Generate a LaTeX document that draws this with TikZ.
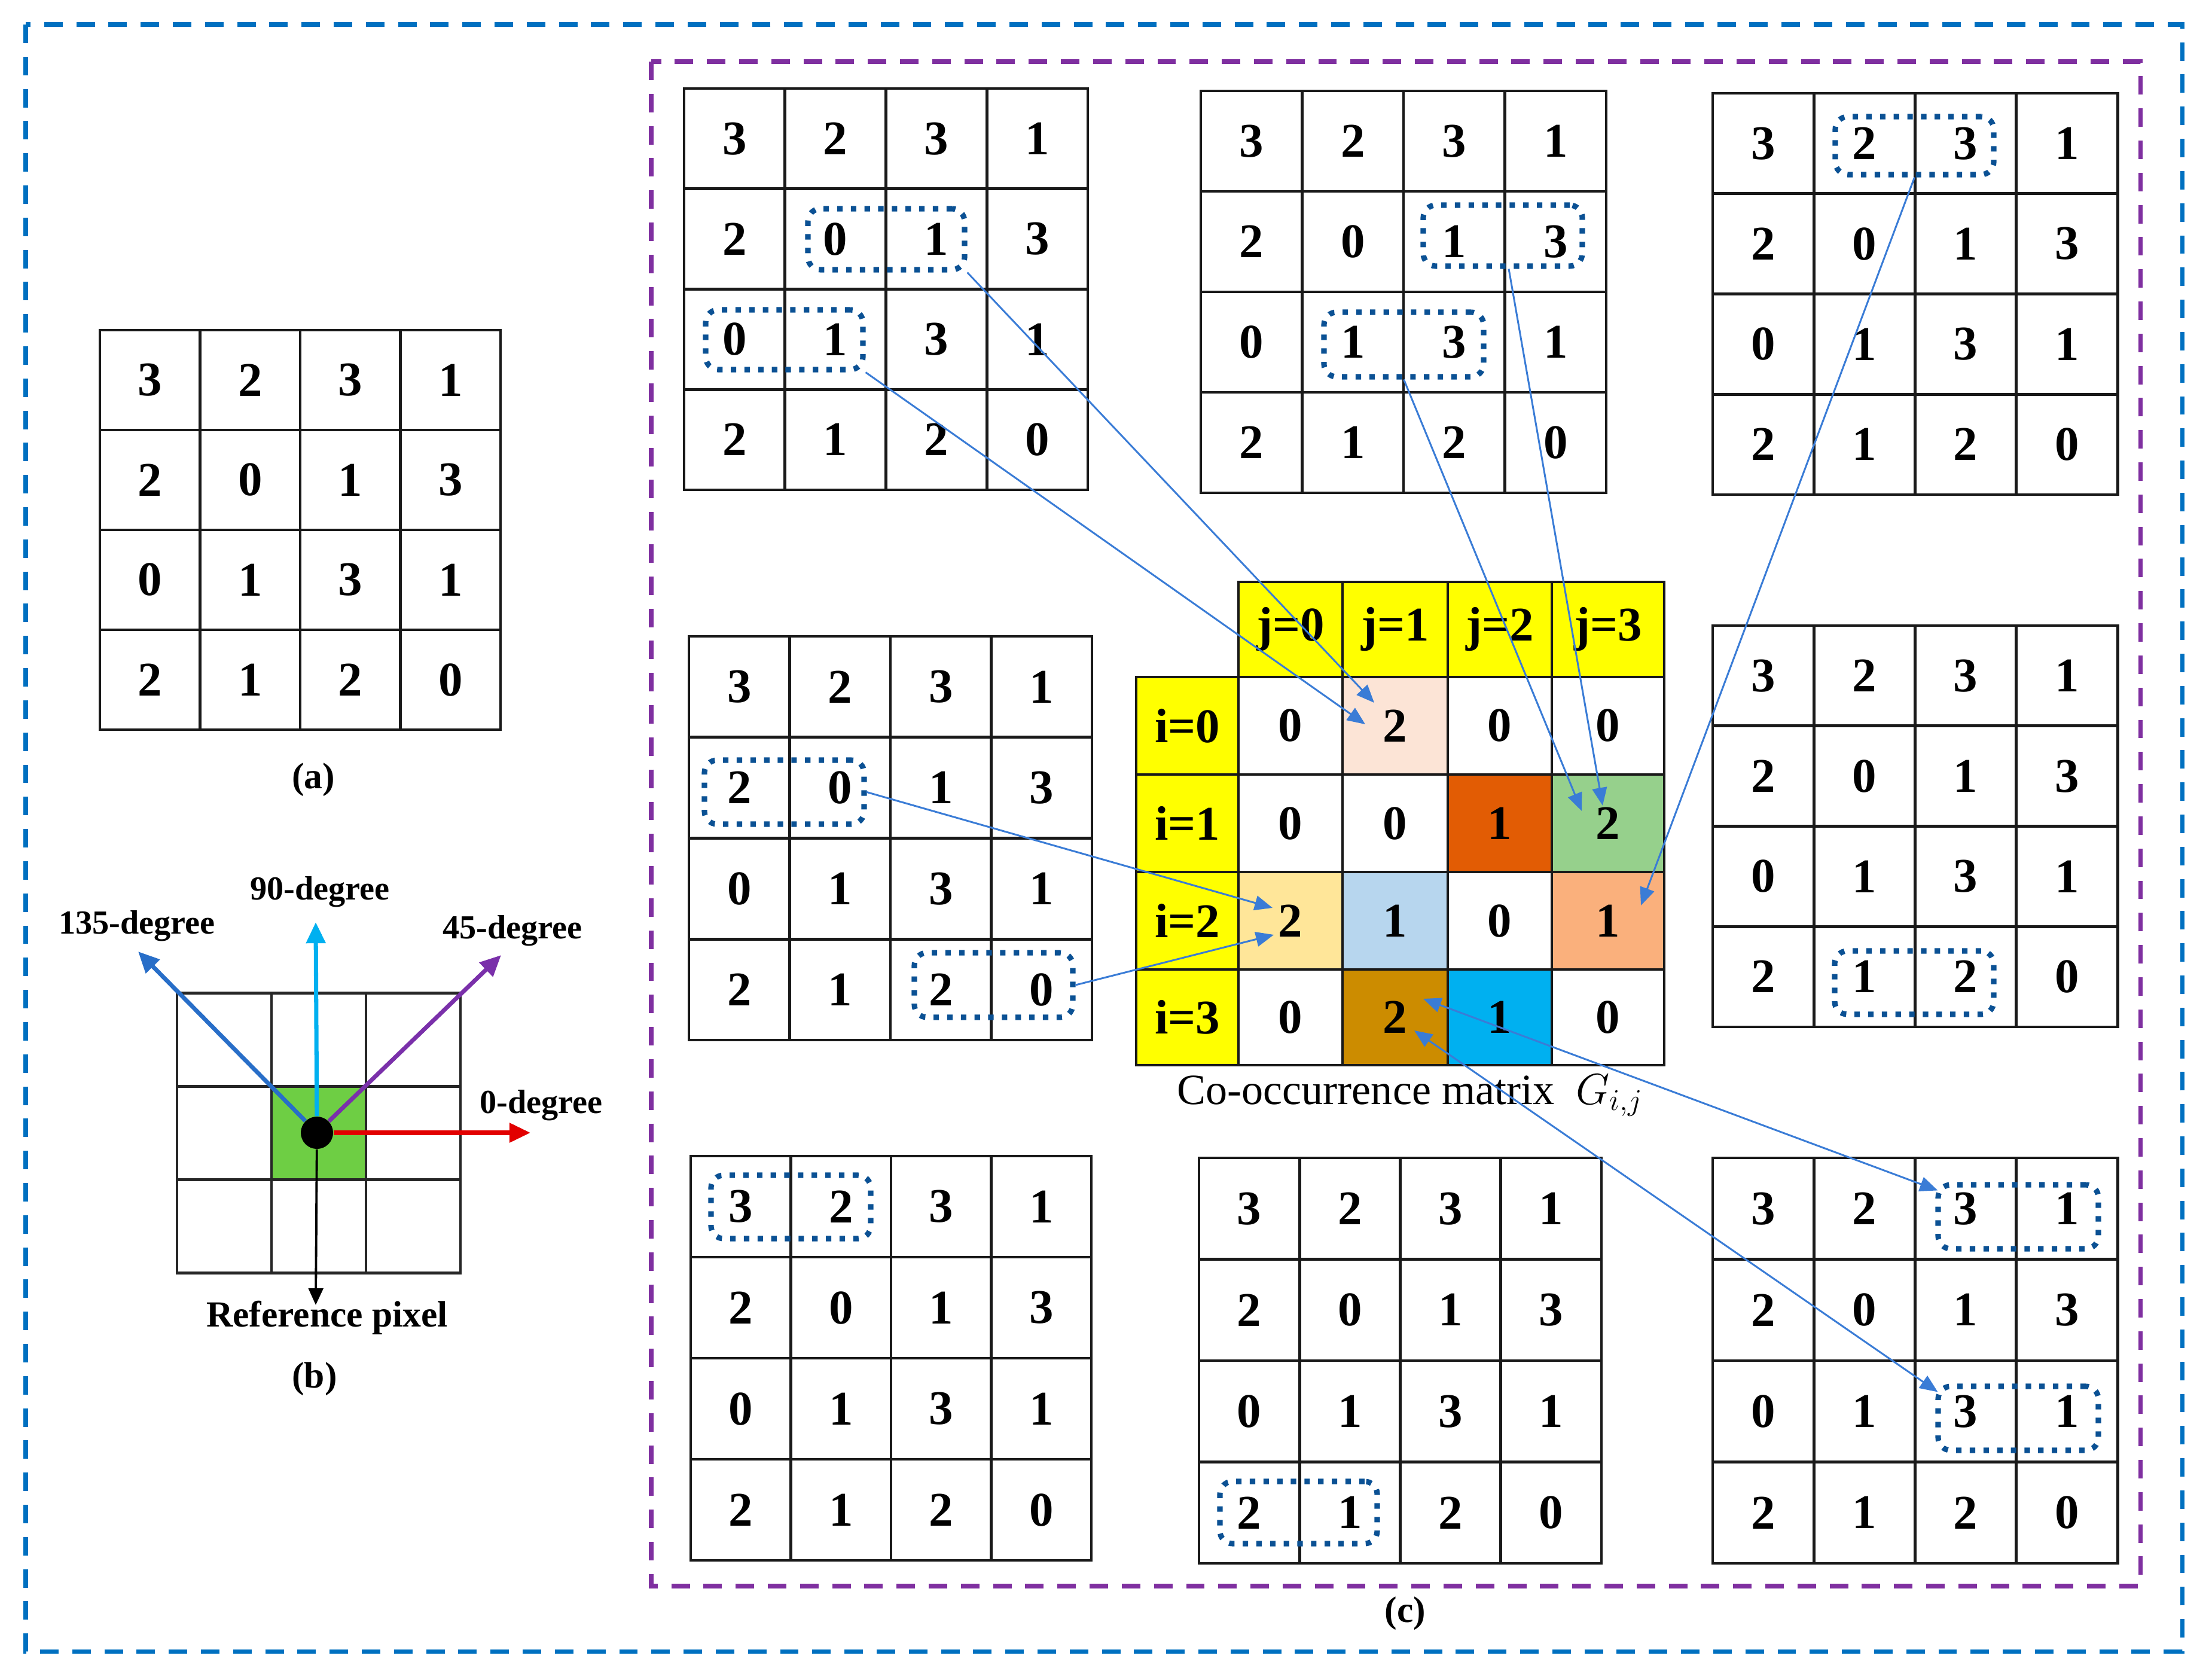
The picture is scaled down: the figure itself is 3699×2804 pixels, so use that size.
\documentclass[tikz,border=0pt]{standalone}
\usepackage{fontspec}
\setmainfont{Liberation Serif}
\usetikzlibrary{arrows.meta,fit,calc}
\definecolor{outerblue}{RGB}{0,112,192}
\definecolor{purpleC}{RGB}{127,47,160}
\definecolor{dotblue}{RGB}{11,81,148}
\definecolor{connblue}{RGB}{58,124,214}
\definecolor{peach}{RGB}{252,228,214}
\definecolor{orangeD}{RGB}{226,92,4}
\definecolor{greenM}{RGB}{150,208,140}
\definecolor{yellowL}{RGB}{255,230,153}
\definecolor{blueL}{RGB}{183,214,238}
\definecolor{salmon}{RGB}{250,176,124}
\definecolor{goldD}{RGB}{204,140,0}
\definecolor{cyanM}{RGB}{0,176,240}
\definecolor{yellowH}{RGB}{255,255,0}
\definecolor{greenB}{RGB}{110,206,68}
\definecolor{blue135}{RGB}{40,110,200}
\definecolor{purp45}{RGB}{122,48,170}
\definecolor{cyan90}{RGB}{0,176,240}
\definecolor{red0}{RGB}{226,0,0}

\newcommand{\pixgrid}[5]{%
  \foreach \r/\vals in {0/{3,2,3,1},1/{2,0,1,3},2/{0,1,3,1},3/{2,1,2,0}}{%
    \foreach \v [count=\c from 0] in \vals {%
      \node[cell, minimum width={#4*0.01cm}, minimum height={#5*0.01cm}] (#1-\r-\c) at ({#2+(\c+0.5)*#4},{#3+(\r+0.5)*#5}) {\v};
    }%
  }%
}
\newcommand{\mcell}[7]{%
  \node[cell, fill=#6, minimum width={(#4-#2)*0.01cm}, minimum height={(#5-#3)*0.01cm}] (#1) at ({(#2+#4)/2},{(#3+#5)/2}) {#7};%
}

\begin{document}
\begin{tikzpicture}[x=0.01cm,y=-0.01cm,
  cell/.style={draw=black!90, line width=1.4pt, inner sep=0pt, font=\fontsize{23}{27}\selectfont\bfseries},
  bcell/.style={draw=black!85, line width=1.4pt, inner sep=0pt, minimum width={158*0.01cm}, minimum height={156*0.01cm}},
  dotbox/.style={draw=dotblue, line width=2.6pt, dash pattern=on 2.6pt off 3.9pt, rounded corners=6pt, inner sep=0pt},
  conn/.style={draw=connblue, line width=0.85pt, -{Triangle[length=8.5pt,width=7pt]}},
  conntwo/.style={draw=connblue, line width=0.85pt, {Triangle[length=8.5pt,width=7pt]}-{Triangle[length=8.5pt,width=7pt]}},
  outerbox/.style={draw=outerblue, line width=2pt, dash pattern=on 8.8pt off 6.5pt},
  purplebox/.style={draw=purpleC, line width=2pt, dash pattern=on 8.8pt off 6.5pt},
  lab/.style={font=\fontsize{17.5}{21}\selectfont\bfseries, inner sep=0pt},
  deg/.style={font=\fontsize{16}{19}\selectfont\bfseries, inner sep=0pt},
  degarr/.style={line width=2pt, -{Triangle[length=10pt,width=9pt]}}
]
\useasboundingbox (0,0) rectangle (3699,2804);

% outer frames
\draw[outerbox] (43,41) rectangle (3649,2761);
\draw[purplebox] (1089,103) rectangle (3579,2652);

% (a)
\pixgrid{ga}{167}{552}{167.5}{167}
\node[lab] (la) at (524,1304) {(a)};

% (b)
\foreach \r in {0,1,2}{
  \foreach \c in {0,1,2}{
    \node[bcell] (gb-\r-\c) at ({296+(\c+0.5)*158},{1661+(\r+0.5)*155.7}) {};
  }
}
\node[bcell, fill=greenB] (gb-1-1) at ({296+1.5*158},{1661+1.5*155.7}) {};
\node[circle, fill=black, minimum size={54*0.01cm}, inner sep=0pt] (dot) at (530,1894) {};
\coordinate (e0) at (887,1894);
\coordinate (e90) at (528,1542);
\coordinate (e45) at (838,1597);
\coordinate (e135) at (231,1591);
\coordinate (eref) at (528,2182);
\draw[degarr, draw=red0] (dot) -- (e0);
\draw[degarr, draw=cyan90] (dot) -- (e90);
\draw[degarr, draw=purp45] (dot) -- (e45);
\draw[degarr, draw=blue135] (dot) -- (e135);
\draw[line width=1.1pt, -{Triangle[length=8pt,width=7pt]}] (dot) -- (eref);
\node[deg] (l0) at (905,1848) {0-degree};
\node[deg] (l90) at (535,1491) {90-degree};
\node[deg] (l45) at (857,1556) {45-degree};
\node[deg] (l135) at (229,1548) {135-degree};
\node[lab] (lref) at (547,2203) {Reference pixel};
\node[lab] (lb) at (526,2306) {(b)};

% (c) grids
\pixgrid{tl}{1144}{148}{168.75}{167.75}
\pixgrid{tm}{2008}{152}{169.5}{168}
\pixgrid{tr}{2864}{156}{169.25}{167.75}
\pixgrid{ml}{1152}{1064}{168.5}{168.75}
\pixgrid{mr}{2864}{1046}{169.25}{167.75}
\pixgrid{bl}{1155}{1933}{167.5}{169}
\pixgrid{bm}{2005}{1936}{168.25}{169.5}
\pixgrid{br}{2864}{1936}{169.25}{169.5}

% dotted pair boxes
\node[dotbox, fit={(1351,349) (1613,451)}] (tlA) {};
\node[dotbox, fit={(1180,518) (1443,618)}] (tlB) {};
\node[dotbox, fit={(2380,343) (2646,445)}] (tmA) {};
\node[dotbox, fit={(2214,522) (2481,630)}] (tmB) {};
\node[dotbox, fit={(3069,195) (3334,292)}] (trA) {};
\node[dotbox, fit={(1178,1271) (1445,1378)}] (mlA) {};
\node[dotbox, fit={(1529,1593) (1794,1701)}] (mlB) {};
\node[dotbox, fit={(3068,1590) (3334,1696)}] (mrA) {};
\node[dotbox, fit={(1189,1965) (1456,2071)}] (blA) {};
\node[dotbox, fit={(2040,2477) (2303,2581)}] (bmA) {};
\node[dotbox, fit={(3241,1981) (3509,2088)}] (brA) {};
\node[dotbox, fit={(3241,2318) (3509,2425)}] (brB) {};

% co-occurrence matrix
\mcell{hj0}{2071}{973}{2245}{1132}{yellowH}{j=0}
\mcell{hj1}{2245}{973}{2421}{1132}{yellowH}{j=1}
\mcell{hj2}{2421}{973}{2595}{1132}{yellowH}{j=2}
\mcell{hj3}{2595}{973}{2783}{1132}{yellowH}{j=3}
\mcell{hi0}{1900}{1132}{2071}{1295}{yellowH}{i=0}
\mcell{hi1}{1900}{1295}{2071}{1458}{yellowH}{i=1}
\mcell{hi2}{1900}{1458}{2071}{1621}{yellowH}{i=2}
\mcell{hi3}{1900}{1621}{2071}{1781}{yellowH}{i=3}
\mcell{m00}{2071}{1132}{2245}{1295}{white}{0}
\mcell{m01}{2245}{1132}{2421}{1295}{peach}{2}
\mcell{m02}{2421}{1132}{2595}{1295}{white}{0}
\mcell{m03}{2595}{1132}{2783}{1295}{white}{0}
\mcell{m10}{2071}{1295}{2245}{1458}{white}{0}
\mcell{m11}{2245}{1295}{2421}{1458}{white}{0}
\mcell{m12}{2421}{1295}{2595}{1458}{orangeD}{1}
\mcell{m13}{2595}{1295}{2783}{1458}{greenM}{2}
\mcell{m20}{2071}{1458}{2245}{1621}{yellowL}{2}
\mcell{m21}{2245}{1458}{2421}{1621}{blueL}{1}
\mcell{m22}{2421}{1458}{2595}{1621}{white}{0}
\mcell{m23}{2595}{1458}{2783}{1621}{salmon}{1}
\mcell{m30}{2071}{1621}{2245}{1781}{white}{0}
\mcell{m31}{2245}{1621}{2421}{1781}{goldD}{2}
\mcell{m32}{2421}{1621}{2595}{1781}{cyanM}{1}
\mcell{m33}{2595}{1621}{2783}{1781}{white}{0}
\node[anchor=base west, inner sep=0pt, font=\fontsize{20.5}{24}\selectfont] (cap) at (1968,1846) {Co-occurrence matrix\enspace$G_{i,j}$};
\node[lab] (lc) at (2350,2698) {(c)};

% connectors
\coordinate (t1) at (2298,1175);
\coordinate (t2) at (2283,1211);
\coordinate (t3) at (2680,1347);
\coordinate (t4) at (2645,1356);
\coordinate (t5) at (2744,1514);
\coordinate (t6) at (2128,1518);
\coordinate (t7) at (2130,1563);
\coordinate (t8) at (2380,1670);
\coordinate (t9) at (2365,1723);
\coordinate (s3) at ($(tmA.south)+(10,0)$);
\coordinate (s8) at ($(brA.north west)+(4,14)$);
\coordinate (s9) at ($(brB.north west)+(4,14)$);
\draw[conn] (tlA.south east) -- (t1);
\draw[conn] (tlB.south east) -- (t2);
\draw[conn] (s3) -- (t3);
\draw[conn] (tmB.south) -- (t4);
\draw[conn] (trA.south) -- (t5);
\draw[conn] (mlA.east) -- (t6);
\draw[conn] (mlB.east) -- (t7);
\draw[conntwo] (s8) -- (t8);
\draw[conntwo] (s9) -- (t9);
\end{tikzpicture}
\end{document}
